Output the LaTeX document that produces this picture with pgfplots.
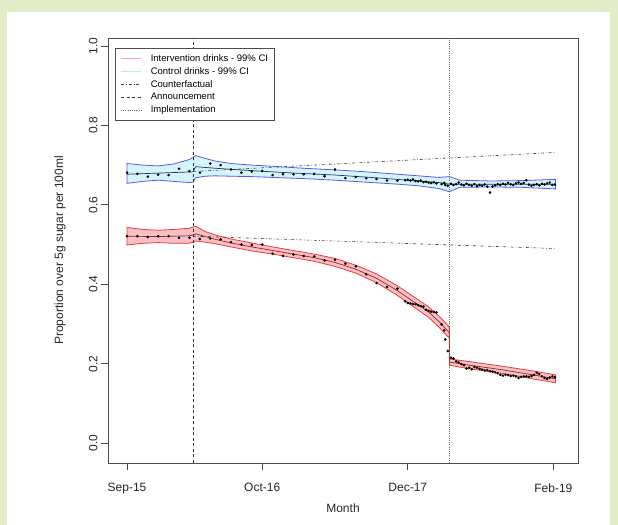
\documentclass[border=0pt]{standalone}
\usepackage{pgfplots}
\pgfplotsset{compat=1.18}
\usepackage{fontspec}
\setmainfont{Liberation Sans}
\definecolor{bggreen}{HTML}{E2ECC6}
\definecolor{intfill}{HTML}{F7C0C6}
\definecolor{intline}{HTML}{EE3B3B}
\definecolor{intfit}{HTML}{8B2A2A}
\definecolor{confill}{HTML}{D4F5F9}
\definecolor{conline}{HTML}{5A5AF0}
\definecolor{confit}{HTML}{2A2A7A}
\definecolor{legint}{HTML}{F7A8B0}
\definecolor{legcon}{HTML}{B8EEF6}
\begin{document}
\begin{tikzpicture}
\path[use as bounding box] (0bp,0bp) rectangle (618bp,525bp);
\fill[bggreen] (0bp,0bp) rectangle (618bp,525bp);
\fill[white] (7bp,0bp) rectangle (610bp,513bp);
\begin{axis}[
  at={(108bp,62bp)}, anchor=south west,
  width=470bp, height=425bp, scale only axis,
  xmin=-1.83, xmax=43.37, ymin=-0.05, ymax=1.02,
  axis line style={black!70, line width=0.9bp},
  tick align=outside, major tick length=7bp,
  tick style={black!70, line width=0.8bp},
  xtick pos=bottom, ytick pos=left,
  xtick={0,13,27,41}, xticklabels={Sep-15,Oct-16,Dec-17,Feb-19},
  ytick={0,0.2,0.4,0.6,0.8,1.0}, yticklabels={0.0,0.2,0.4,0.6,0.8,1.0},
  tick label style={font=\fontsize{12bp}{14bp}\selectfont, black!85},
  xticklabel style={yshift=-10bp},
  yticklabel style={rotate=90, anchor=south},
  xlabel={Month},
  ylabel={Proportion over 5g sugar per 100ml},
  every axis x label/.style={at={(axis description cs:0.5,-0.106)}, anchor=center, font=\fontsize{12bp}{14bp}\selectfont, black!85},
  every axis y label/.style={at={(axis description cs:-0.102,0.5)}, rotate=90, anchor=center, font=\fontsize{12bp}{14bp}\selectfont, black!85},
  clip=true,
  legend style={at={(axis description cs:0.015,0.976)}, anchor=north west,
    draw=black!70, line width=0.7bp, fill=white,
    font=\fontsize{9.5bp}{11bp}\selectfont, row sep=2.2bp, column sep=8bp,
    inner xsep=5bp, inner ysep=4.5bp,
    nodes={inner sep=1.2bp}},
  legend cell align=left,
  legend image code/.code={\draw[#1] (0bp,0bp) -- (20bp,0bp);},
]
% bands
\addplot[fill=intfill, draw=intline, line width=0.8bp, forget plot] coordinates {
(0,0.543) (1.5,0.538) (3,0.536) (4.5,0.538) (6,0.541) (6.35,0.544) (6.6,0.546) (7.5,0.533) (8.5,0.524) (10,0.514) (12,0.504) (14,0.494) (16,0.485) (18,0.476) (20,0.465) (22,0.448) (24,0.426) (26,0.396) (28,0.361) (29,0.343) (30,0.320) (31,0.292) (31,0.212) (33,0.205) (36,0.194) (39,0.182) (41.2,0.172)
(41.2,0.152) (39,0.162) (36,0.176) (33,0.187) (31,0.196) (31,0.264) (30,0.292) (29,0.317) (28,0.335) (26,0.372) (24,0.404) (22,0.428) (20,0.445) (18,0.458) (16,0.467) (14,0.476) (12,0.484) (10,0.494) (8.5,0.502) (7.5,0.506) (6.6,0.509) (6.35,0.506) (6,0.503) (4.5,0.503) (3,0.505) (1.5,0.503) (0,0.499)
} -- cycle;
\addplot[fill=confill, draw=conline, line width=0.8bp, forget plot] coordinates {
(0,0.704) (1.5,0.700) (3,0.698) (4.5,0.703) (6,0.714) (6.35,0.719) (6.6,0.724) (7.5,0.717) (8.5,0.710) (10,0.704) (12,0.700) (14,0.697) (17,0.692) (20,0.688) (23,0.683) (26,0.677) (28,0.673) (30,0.669) (31,0.671) (32,0.662) (35,0.660) (38,0.661) (41.2,0.664)
(41.2,0.640) (38,0.644) (35,0.645) (32,0.644) (31,0.633) (30,0.641) (28,0.648) (26,0.652) (23,0.657) (20,0.662) (17,0.666) (14,0.669) (12,0.671) (10,0.672) (8.5,0.673) (7.5,0.672) (6.6,0.668) (6.35,0.657) (6,0.656) (4.5,0.659) (3,0.662) (1.5,0.659) (0,0.654)
} -- cycle;
% fits
\addplot[intfit, line width=0.7bp, forget plot] coordinates {
(0,0.521) (3,0.520) (6,0.522) (6.35,0.524) (6.6,0.527) (8.5,0.513) (10,0.504) (12,0.494) (14,0.485) (16,0.476) (18,0.467) (20,0.455) (22,0.438) (24,0.415) (26,0.384) (28,0.348) (29,0.330) (30,0.306) (31,0.278) (31,0.204) (33,0.196) (36,0.185) (39,0.172) (41.2,0.162)};
\addplot[confit, line width=0.7bp, forget plot] coordinates {
(0,0.677) (6.35,0.683) (6.6,0.696) (8.5,0.692) (12,0.686) (16,0.680) (20,0.675) (24,0.668) (27,0.662) (30,0.656) (31,0.652) (36,0.652) (41.2,0.652)};
% counterfactuals
\addplot[black!75, line width=0.6bp, dash dot, forget plot] coordinates {(6.35,0.684) (41.2,0.732)};
\addplot[black!75, line width=0.6bp, dash dot, forget plot] coordinates {(6.35,0.521) (41.2,0.490)};
% vertical lines
\addplot[black!80, line width=0.7bp, dash pattern=on 3bp off 2.5bp, forget plot] coordinates {(6.35,-0.05) (6.35,1.02)};
\addplot[black!60, line width=0.7bp, dash pattern=on 1bp off 1.2bp, forget plot] coordinates {(31,-0.05) (31,1.02)};
% data points
\addplot[only marks, mark=*, mark size=1.1bp, black, forget plot] coordinates {
(0,0.521) (1,0.521) (2,0.519) (3,0.521) (4,0.521) (5,0.517) (6,0.517) (7,0.514) (8,0.515) (9,0.513) (10,0.506) (11,0.500) (12,0.499) (13,0.500) (14,0.477) (15,0.471) (16,0.475) (17,0.471) (18,0.470) (19,0.460) (20,0.462) (21,0.452) (22,0.445) (23,0.425) (24,0.403) (25,0.393) (26,0.389)
(26.75,0.357) (27.0,0.353) (27.25,0.352) (27.5,0.350) (27.75,0.350) (28.0,0.347) (28.25,0.345) (28.5,0.344) (28.75,0.336) (29.0,0.333) (29.25,0.331) (29.5,0.330) (29.75,0.329) (30.25,0.299) (30.5,0.284) (30.6,0.261) (30.85,0.232)
(31.15,0.215) (31.4,0.213) (31.65,0.206) (31.9,0.203) (32.15,0.199) (32.4,0.196) (32.65,0.188) (32.9,0.190) (33.15,0.186) (33.4,0.192) (33.65,0.190) (33.9,0.187) (34.15,0.185) (34.4,0.183) (34.65,0.184) (34.9,0.181) (35.15,0.180) (35.4,0.178) (35.65,0.176) (35.9,0.172) (36.15,0.170) (36.4,0.172) (36.65,0.171) (36.9,0.169) (37.15,0.170) (37.4,0.168) (37.65,0.164) (37.9,0.167) (38.15,0.168) (38.4,0.168) (38.65,0.167) (38.9,0.169) (39.15,0.172) (39.4,0.177) (39.65,0.174) (39.9,0.168) (40.15,0.164) (40.4,0.162) (40.65,0.165) (40.9,0.168) (41.15,0.166)
};
\addplot[only marks, mark=*, mark size=1.1bp, black, forget plot] coordinates {
(0,0.681) (1,0.678) (2,0.671) (3,0.676) (4,0.675) (5,0.691) (6,0.685) (7,0.681) (8,0.704) (9,0.700) (10,0.689) (11,0.681) (12,0.684) (13,0.685) (14,0.675) (15,0.677) (16,0.677) (17,0.677) (18,0.678) (19,0.672) (20,0.689) (21,0.667) (22,0.670) (23,0.667) (24,0.665) (25,0.661) (26,0.661)
(26.75,0.662) (27.0,0.663) (27.25,0.661) (27.5,0.664) (27.75,0.660) (28.0,0.659) (28.25,0.661) (28.5,0.657) (28.75,0.658) (29.0,0.656) (29.25,0.655) (29.5,0.657) (29.75,0.654) (30.25,0.652) (30.5,0.655) (30.6,0.650) (30.85,0.648)
(31.15,0.653) (31.4,0.650) (31.65,0.652) (31.9,0.656) (32.15,0.651) (32.4,0.649) (32.65,0.653) (32.9,0.650) (33.15,0.648) (33.4,0.652) (33.65,0.647) (33.9,0.650) (34.15,0.648) (34.4,0.651) (34.65,0.646) (34.9,0.631) (35.15,0.646) (35.4,0.649) (35.65,0.652) (35.9,0.650) (36.15,0.653) (36.4,0.651) (36.65,0.655) (36.9,0.652) (37.15,0.650) (37.4,0.654) (37.65,0.656) (37.9,0.653) (38.15,0.655) (38.4,0.662) (38.65,0.651) (38.9,0.648) (39.15,0.650) (39.4,0.652) (39.65,0.649) (39.9,0.653) (40.15,0.651) (40.4,0.654) (40.65,0.656) (40.9,0.650) (41.15,0.651)
};
% legend entries
\addlegendimage{legint, line width=1.2bp}
\addlegendentry{Intervention drinks - 99\% CI}
\addlegendimage{legcon, line width=1.2bp}
\addlegendentry{Control drinks - 99\% CI}
\addlegendimage{black!75, line width=0.6bp, dash dot}
\addlegendentry{Counterfactual}
\addlegendimage{black!80, line width=0.6bp, dash pattern=on 3bp off 2.5bp}
\addlegendentry{Announcement}
\addlegendimage{black!60, line width=0.6bp, dash pattern=on 1bp off 1.2bp}
\addlegendentry{Implementation}
\end{axis}
\end{tikzpicture}
\end{document}
